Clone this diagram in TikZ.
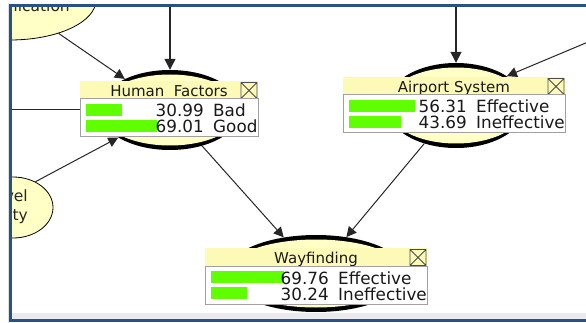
\documentclass[tikz,border=0pt]{standalone}
\usepackage{fontspec}
\setmainfont{DejaVu Sans}
\usetikzlibrary{arrows.meta,shapes.geometric}

\definecolor{frameblue}{RGB}{40,82,132}
\definecolor{ovalfill}{RGB}{255,255,198}
\definecolor{headfill}{RGB}{252,250,182}
\definecolor{barfill}{RGB}{96,255,0}
\definecolor{boxline}{RGB}{160,160,160}
\definecolor{stripgray}{RGB}{234,234,234}

\tikzset{
  link/.style={draw=black!85, line width=1pt, -{Triangle[length=10pt,width=10pt]}},
  heavylink/.style={link, line width=1.4pt, -{Triangle[length=11pt,width=11pt]}},
  ovalouter/.style={ellipse, fill=black, inner sep=0pt},
  ovalinner/.style={ellipse, fill=ovalfill, inner sep=0pt},
  sideoval/.style={ellipse, draw=black, line width=0.8pt, fill=ovalfill, inner sep=0pt},
  sidetext/.style={inner sep=0pt, font=\fontsize{15.5}{15.5}\selectfont, text=black!85},
  titletext/.style={inner sep=0pt, anchor=base, font=\fontsize{15}{15}\selectfont, text=black!90},
  rowtext/.style={inner sep=0pt, font=\fontsize{16.8}{16.8}\selectfont, text=black!90},
  databox/.style={draw=boxline, line width=1pt, fill=white},
  closebox/.style={draw=black!70, line width=0.8pt},
}

% Belief panel, drawn from the header's top-left corner:
% #1 name, #2 width, #3 title, #4/#7 bar widths, #5/#8 values, #6/#9 states
\newcommand\beliefpanel[9]{%
  \fill[headfill] (0,0) rectangle (#2,18);
  \node[titletext] (#1-title) at (#2/2,15.5) {#3};
  \draw[closebox] (#2-17,1.5) rectangle (#2-1,17.5)
                  (#2-17,1.5) -- (#2-1,17.5) (#2-17,17.5) -- (#2-1,1.5);
  \draw[databox] (0,18) rectangle (#2,56);
  \fill[barfill] (6,23) rectangle (6+#4,35);
  \fill[barfill] (6,39) rectangle (6+#7,51);
  \node[rowtext, anchor=base east] (#1-v1) at (124,36) {#5};
  \node[rowtext, anchor=base west] (#1-s1) at (133,36) {#6};
  \node[rowtext, anchor=base east] (#1-v2) at (124,52) {#8};
  \node[rowtext, anchor=base west] (#1-s2) at (133,52) {#9};
}

\begin{document}
\begin{tikzpicture}[x=1pt, y=-1pt]
  \useasboundingbox (0,0) rectangle (586,323);
  \fill[white] (0,0) rectangle (586,323);

  \begin{scope}
    \clip (12,7.5) rectangle (586,318.5);
    \fill[stripgray] (12,313) rectangle (586,318.5);

    % partly hidden parent nodes at the left edge
    \node[sideoval, minimum width=172pt, minimum height=80pt] (comm) at (10,0) {};
    \node[sidetext, anchor=base east] (comm-t) at (70,12) {nication};
    \node[sideoval, minimum width=80pt, minimum height=61pt] (lvl) at (13,207.5) {};
    \node[sidetext, anchor=base east] (lvl-t1) at (28,201) {vel};
    \node[sidetext, anchor=base east] (lvl-t2) at (28,220) {ity};

    % node ovals with thick rims
    \node[ovalouter, minimum width=142pt, minimum height=80pt] (hf) at (170,110) {};
    \node[ovalinner, minimum width=142pt, minimum height=71pt] (hf-in) at (hf.center) {};
    \node[ovalouter, minimum width=140pt, minimum height=85pt] (ap) at (456,105.5) {};
    \node[ovalinner, minimum width=140pt, minimum height=76pt] (ap-in) at (ap.center) {};
    \node[ovalouter, minimum width=180pt, minimum height=77pt] (wf) at (316,273.5) {};
    \node[ovalinner, minimum width=180pt, minimum height=68pt] (wf-in) at (wf.center) {};

    % loose ends of links from nodes outside the view
    \coordinate (hf-top) at (170,0);
    \coordinate (hf-left) at (0,110);
    \coordinate (ap-top) at (456,0);
    \coordinate (ap-right) at (600,37);

    % links
    \draw[link] (comm) -- (hf);
    \draw[heavylink] (hf-top) -- (hf);
    \draw[link] (hf-left) -- (hf);
    \draw[link] (lvl.49) -- (hf);
    \draw[heavylink] (ap-top) -- (ap);
    \draw[link] (ap-right) -- (ap.30);
    \draw[link] (hf) -- (wf);
    \draw[link] (ap) -- (wf);

    % belief panels
    \begin{scope}[shift={(80,81)}]
      \beliefpanel{hfp}{178}{Human\ \ Factors}{36}{30.99}{Bad}{71}{69.01}{Good}
    \end{scope}
    \begin{scope}[shift={(343,77)}]
      \beliefpanel{app}{222}{Airport System}{66}{56.31}{Effective}{52}{43.69}{Ineffective}
    \end{scope}
    \begin{scope}[shift={(205,248)}]
      \beliefpanel{wfp}{222}{Wayfinding}{73}{69.76}{Effective}{36}{30.24}{Ineffective}
    \end{scope}
  \end{scope}

  % window frame
  \fill[black!12] (7.5,3) rectangle (9,323);
  \fill[frameblue] (9,4) rectangle (586,7.5);
  \fill[frameblue] (9,4) rectangle (12,322);
  \fill[frameblue] (9,318.5) rectangle (586,322);
\end{tikzpicture}
\end{document}
